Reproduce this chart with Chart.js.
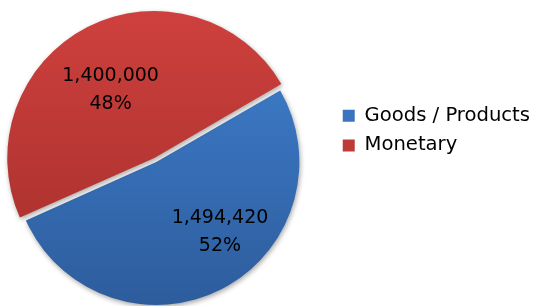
<!DOCTYPE html>
<html>
<head>
<meta charset="utf-8">
<script src="https://cdn.jsdelivr.net/npm/chart.js@4/dist/chart.umd.min.js"></script>
<style>
html,body{margin:0;padding:0;background:#fff;}
#wrap{width:535px;height:306px;position:relative;overflow:hidden;}
</style>
</head>
<body>
<div id="wrap"><canvas id="c" width="535" height="306"></canvas></div>
<script>
const categories = ["Goods / Products", "Monetary"];
const values = [1494420, 1400000];
const valueLabels = ["1,494,420", "1,400,000"];
const percentLabels = ["52%", "48%"];
const colorsTop = ["#4183D3", "#D0413E"];
const colorsBottom = ["#2D5C9C", "#A32E2B"];
const legendColors = ["#3A73BE", "#BE3A37"];

function grad(ctx, i) {
  const chart = ctx.chart;
  const g = chart.ctx.createLinearGradient(0, 0, 0, chart.height);
  g.addColorStop(0, colorsTop[i]);
  g.addColorStop(1, colorsBottom[i]);
  return g;
}

// label placement style (angle shift in degrees, radius fraction) per slice
const labelAngleShift = [-15, -6];
const labelRadiusFrac = [0.664, 0.534];

const shiftPlugin = {
  id: 'shiftArea',
  afterLayout(chart) {
    chart.chartArea.left -= 20;
    chart.chartArea.width += 20;
  }
};

const labelPlugin = {
  id: 'sliceLabels',
  afterDatasetsDraw(chart) {
    const ctx = chart.ctx;
    const meta = chart.getDatasetMeta(0);
    ctx.save();
    ctx.font = '19px "DejaVu Sans"';
    ctx.fillStyle = '#000';
    ctx.textAlign = 'center';
    ctx.textBaseline = 'middle';
    meta.data.forEach((arc, i) => {
      const off = (arc.options.offset || 0) / 2;
      const mid = (arc.startAngle + arc.endAngle) / 2;
      const a = mid + labelAngleShift[i] * Math.PI / 180;
      const r = arc.outerRadius * labelRadiusFrac[i];
      const x = arc.x + Math.cos(mid) * off + Math.cos(a) * r;
      const y = arc.y + Math.sin(mid) * off + Math.sin(a) * r;
      ctx.fillText(valueLabels[i], x, y - 14);
      ctx.fillText(percentLabels[i], x, y + 14);
    });
    ctx.restore();
  }
};

const shadowPlugin = {
  id: 'shadow',
  beforeDatasetsDraw(chart) {
    const ctx = chart.ctx;
    ctx.save();
    ctx.shadowColor = 'rgba(0,0,0,0.35)';
    ctx.shadowBlur = 5;
    ctx.shadowOffsetX = 1;
    ctx.shadowOffsetY = 2;
  },
  afterDatasetsDraw(chart) {
    chart.ctx.restore();
  }
};

new Chart(document.getElementById('c'), {
  type: 'pie',
  data: {
    labels: categories,
    datasets: [{
      data: values,
      backgroundColor: (ctx) => grad(ctx, ctx.dataIndex),
      borderWidth: 0,
      offset: [0, 18],
      hoverOffset: 0
    }]
  },
  options: {
    responsive: false,
    animation: false,
    rotation: 60,
    radius: 143,
    layout: { padding: { top: 18, bottom: 0, left: 0, right: -5 } },
    plugins: {
      tooltip: { enabled: false },
      legend: {
        position: 'right',
        align: 'start',
        title: { display: true, text: '', font: { size: 10, lineHeight: 1.2 }, padding: { top: 66, bottom: 0 } },
        labels: {
          boxWidth: 12,
          boxHeight: 12,
          padding: 10,
          color: '#000',
          font: { family: '"DejaVu Sans"', size: 19.6 },
          generateLabels: (chart) => categories.map((c, i) => ({
            text: c, fillStyle: legendColors[i], strokeStyle: legendColors[i], fontColor: '#000', lineWidth: 0, index: i, hidden: false
          }))
        }
      }
    }
  },
  plugins: [shiftPlugin, shadowPlugin, labelPlugin]
});
</script>
</body>
</html>
